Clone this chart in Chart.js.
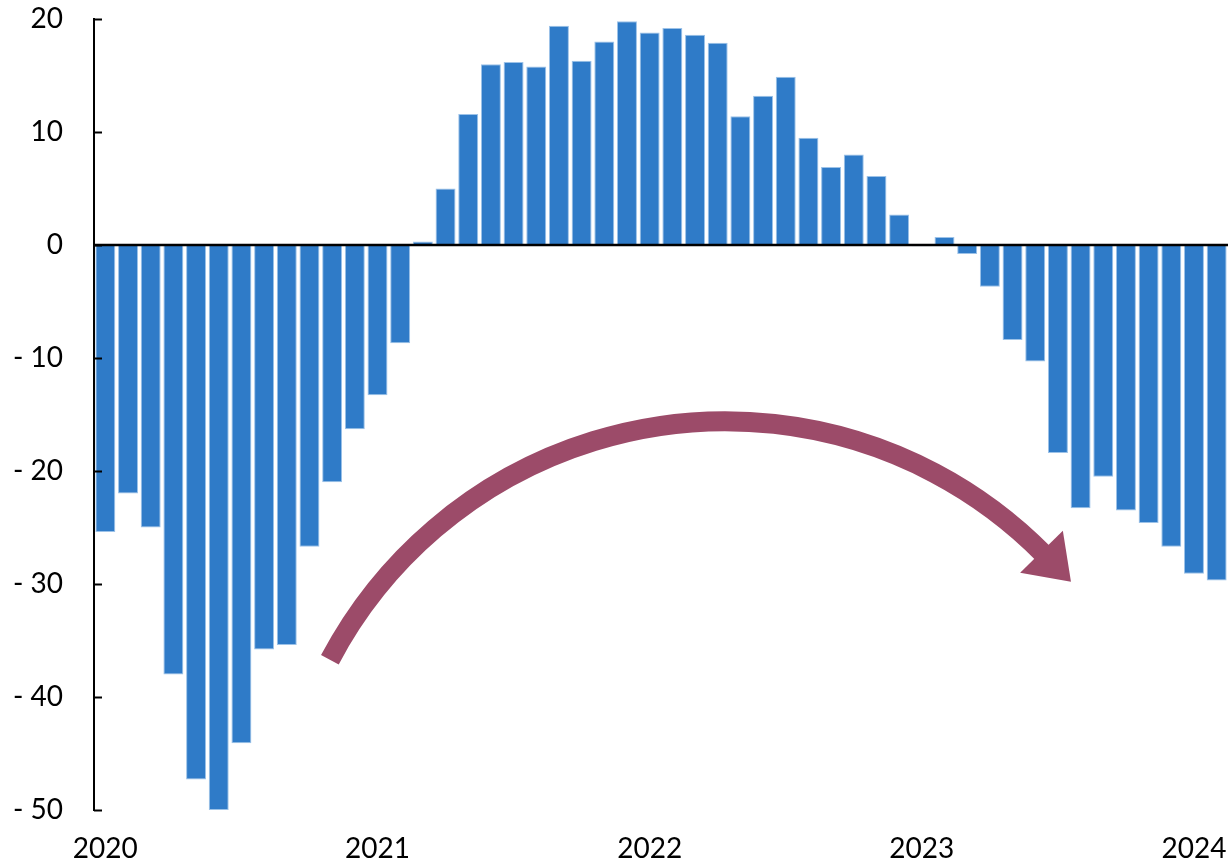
<!DOCTYPE html>
<html>
<head>
<meta charset="utf-8">
<script src="https://cdn.jsdelivr.net/npm/chart.js@4"></script>
<style>
  html, body { margin: 0; padding: 0; background: #fff; }
  canvas { display: block; }
</style>
</head>
<body>
<canvas id="balance" width="1232" height="865"></canvas>
<script>
// monthly balance, Jan 2020 .. Feb 2024
const years = ["2020", "2021", "2022", "2023", "2024"];
const values2020 = [-25.4, -22.0, -25.0, -38.0, -47.3, -50.0, -44.1, -35.8, -35.4, -26.7, -21.0, -16.3];
const values2021 = [-13.3, -8.7, 0.3, 5.0, 11.6, 16.0, 16.2, 15.8, 19.4, 16.3, 18.0, 19.8];
const values2022 = [18.8, 19.2, 18.6, 17.9, 11.4, 13.2, 14.9, 9.5, 6.9, 8.0, 6.1, 2.7];
const values2023 = [-0.1, 0.7, -0.8, -3.7, -8.4, -10.3, -18.4, -23.3, -20.5, -23.5, -24.6, -26.7];
const values2024 = [-29.1, -29.7];
const yTicks = [20, 10, 0, -10, -20, -30, -40, -50];

const values = [].concat(values2020, values2021, values2022, values2023, values2024);
const labels = [];
years.forEach(y => {
  for (let m = 1; m <= 12; m++) {
    if (labels.length < values.length) labels.push(y + "-" + String(m).padStart(2, "0"));
  }
});

// curved arrow, given in (month index, value) terms
const arrowStart = { x: 9.9, y: -36.7 };
const arrowApex = { x: 27.1, y: -15.6 };
const arrowEnd = { x: 41.4, y: -27.4 };
const arrowColor = "#9c4b69";

const FONT = "Lato, 'Open Sans', sans-serif";

const decorations = {
  id: "decorations",
  afterDatasetsDraw(chart) {
    const { ctx, chartArea, scales } = chart;
    const x = scales.x, y = scales.y;
    ctx.save();

    // zero line
    const y0 = y.getPixelForValue(0);
    ctx.strokeStyle = "#000";
    ctx.lineWidth = 2.5;
    ctx.beginPath();
    ctx.moveTo(chartArea.left, y0);
    ctx.lineTo(chartArea.right, y0);
    ctx.stroke();

    // inside tick marks on the value axis
    ctx.lineWidth = 2;
    yTicks.forEach(v => {
      const py = Math.round(y.getPixelForValue(v)) + 0.5;
      ctx.beginPath();
      ctx.moveTo(chartArea.left, py);
      ctx.lineTo(chartArea.left + 8, py);
      ctx.stroke();
    });

    // arrow: circle through three points
    const p1 = { x: x.getPixelForValue(arrowStart.x), y: y.getPixelForValue(arrowStart.y) };
    const p2 = { x: x.getPixelForValue(arrowApex.x), y: y.getPixelForValue(arrowApex.y) };
    const p3 = { x: x.getPixelForValue(arrowEnd.x), y: y.getPixelForValue(arrowEnd.y) };
    const d = 2 * (p1.x * (p2.y - p3.y) + p2.x * (p3.y - p1.y) + p3.x * (p1.y - p2.y));
    const s1 = p1.x * p1.x + p1.y * p1.y, s2 = p2.x * p2.x + p2.y * p2.y, s3 = p3.x * p3.x + p3.y * p3.y;
    const cx = (s1 * (p2.y - p3.y) + s2 * (p3.y - p1.y) + s3 * (p1.y - p2.y)) / d;
    const cy = (s1 * (p3.x - p2.x) + s2 * (p1.x - p3.x) + s3 * (p2.x - p1.x)) / d;
    const r = Math.hypot(p1.x - cx, p1.y - cy);
    const a0 = Math.atan2(p1.y - cy, p1.x - cx);
    const a1 = Math.atan2(p3.y - cy, p3.x - cx);

    ctx.strokeStyle = arrowColor;
    ctx.fillStyle = arrowColor;
    ctx.lineWidth = 20;
    ctx.lineCap = "butt";
    ctx.beginPath();
    ctx.arc(cx, cy, r, a0, a1, false);
    ctx.stroke();

    const dx = -Math.sin(a1), dy = Math.cos(a1);
    const bx = cx + r * Math.cos(a1), by = cy + r * Math.sin(a1);
    const len = 38, half = 30;
    ctx.beginPath();
    ctx.moveTo(bx + dx * len, by + dy * len);
    ctx.lineTo(bx - dy * half - dx * 4, by + dx * half - dy * 4);
    ctx.lineTo(bx + dy * half - dx * 4, by - dx * half - dy * 4);
    ctx.closePath();
    ctx.fill();

    ctx.restore();
  }
};

new Chart(document.getElementById("balance"), {
  type: "bar",
  data: {
    labels: labels,
    datasets: [{
      data: values,
      backgroundColor: "#2f7bc8",
      borderColor: "#9cc2e8",
      borderWidth: 1,
      barPercentage: 0.88,
      categoryPercentage: 1
    }]
  },
  options: {
    responsive: false,
    animation: false,
    layout: { padding: { top: 19, right: 4, left: 0, bottom: 0 } },
    plugins: { legend: { display: false }, tooltip: { enabled: false } },
    scales: {
      x: {
        grid: { display: false },
        border: { display: false },
        ticks: {
          autoSkip: false,
          maxRotation: 0,
          padding: 14,
          color: "#000",
          font: { family: FONT, size: 28 },
          callback: (v, i) => (i % 12 === 0 ? labels[i].slice(0, 4) : "")
        },
        afterFit: s => { s.height = 55; s.paddingLeft = 0; s.paddingRight = 0; }
      },
      y: {
        min: -50,
        max: 20,
        afterBuildTicks: s => { s.ticks = yTicks.map(v => ({ value: v })); },
        grid: { display: false, drawTicks: false },
        border: { display: true, color: "#000", width: 2 },
        ticks: {
          padding: 31,
          color: "#000",
          font: { family: FONT, size: 28 },
          callback: v => (v < 0 ? "- " + Math.abs(v) : String(v))
        },
        afterFit: s => { s.width = 94; s.paddingTop = 0; s.paddingBottom = 0; }
      }
    }
  },
  plugins: [decorations]
});
</script>
</body>
</html>
